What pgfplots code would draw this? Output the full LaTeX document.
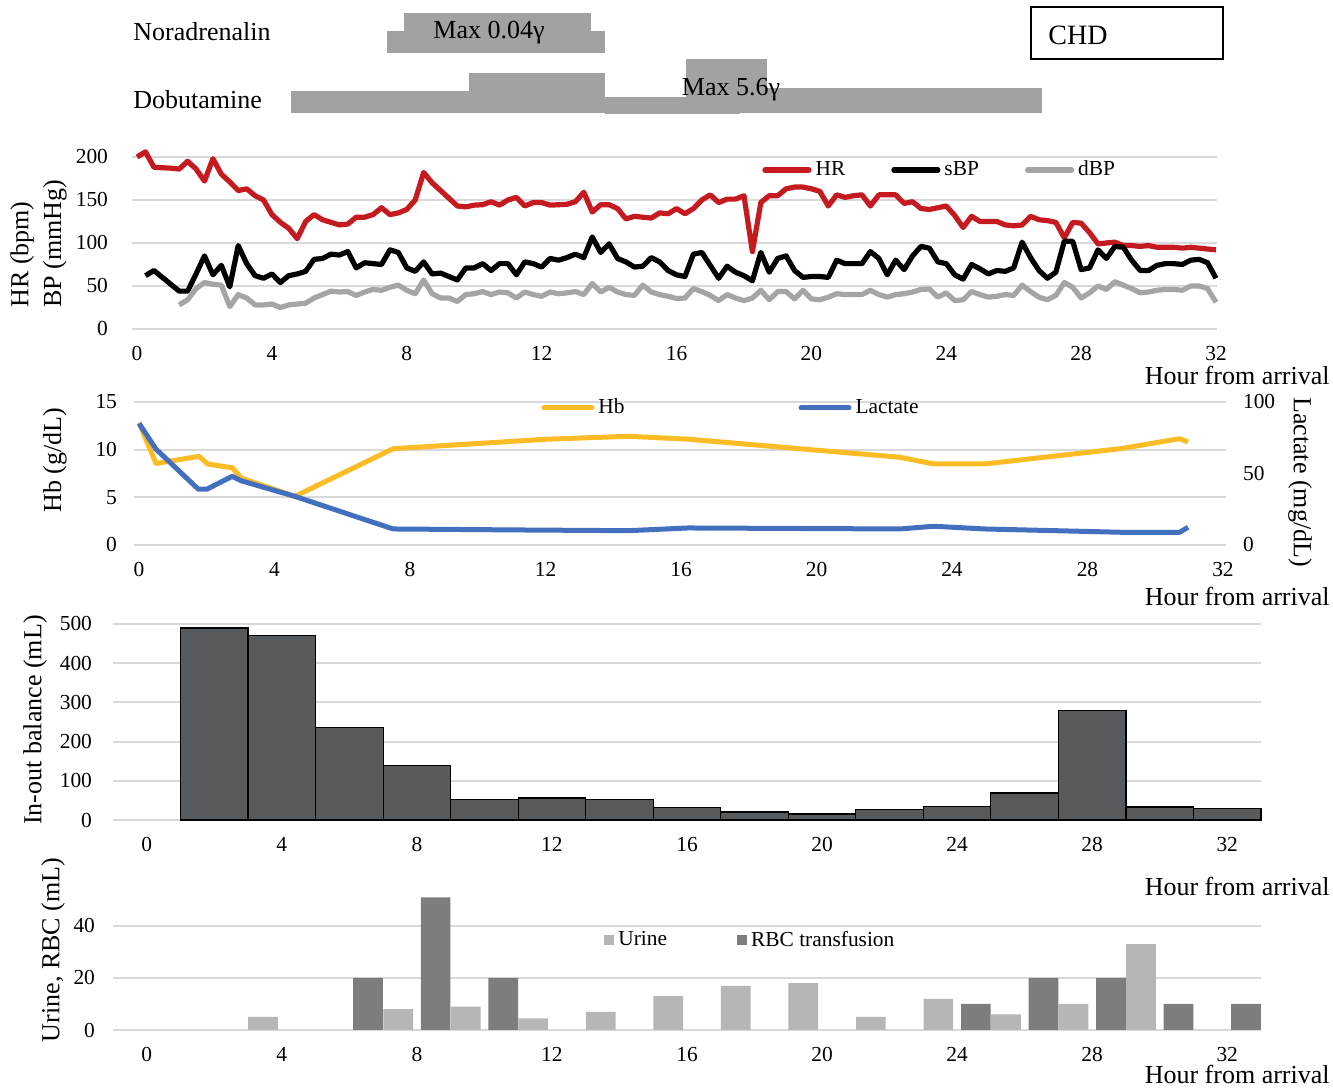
\documentclass[border=0pt]{standalone}
\usepackage{pgfplots}
\pgfplotsset{compat=1.18}
\usepackage{fontspec}
\setmainfont{Liberation Serif}
\definecolor{hrred}{RGB}{196,26,32}
\definecolor{dbpgray}{RGB}{165,165,165}
\definecolor{gridc}{RGB}{217,217,217}
\definecolor{hbc}{RGB}{251,188,38}
\definecolor{lacc}{RGB}{66,112,190}
\definecolor{inout}{RGB}{87,90,93}
\definecolor{urine}{RGB}{180,182,183}
\definecolor{rbc}{RGB}{124,125,127}
\definecolor{drug}{RGB}{160,162,163}
\newcommand{\tickfont}{\fontsize{10.7}{12}\selectfont}
\newcommand{\labfont}{\fontsize{13}{15}\selectfont}
\pgfplotsset{
  base/.style={scale only axis, anchor=south west, clip=false,
    axis line style={draw=none}, major tick length=0pt, tick style={draw=none},
    ymajorgrids, grid style={draw=gridc, line width=1pt},
    tick label style={font=\tickfont},
    /pgf/number format/assume math mode=true,
    xtick={0,4,...,32},
    xticklabel style={yshift=-5.3pt}},
  lin/.style={line width=2.6pt, line join=round, no marks},
}
\begin{document}
\begin{tikzpicture}
\path[use as bounding box] (0,0) rectangle (666.5pt,545pt);

% ---------------- drug bars ----------------
\begin{axis}[hide axis, scale only axis, anchor=south west, clip=false,
  at={(66pt,485pt)}, width=542.5pt, height=60pt,
  xmin=-0.15, xmax=32.03, ymin=0, ymax=120, y dir=reverse]
\addplot[fill=drug, draw=none] coordinates {(7.92,13) (13.46,13) (13.46,31) (7.92,31)};
\addplot[fill=drug, draw=none] coordinates {(7.41,31) (13.88,31) (13.88,53) (7.41,53)};
\addplot[fill=drug, draw=none] coordinates {(4.57,91) (9.85,91) (9.85,113) (4.57,113)};
\addplot[fill=drug, draw=none] coordinates {(9.85,73) (13.88,73) (13.88,113) (9.85,113)};
\addplot[fill=drug, draw=none] coordinates {(13.88,97) (17.88,97) (17.88,114) (13.88,114)};
\addplot[fill=drug, draw=none] coordinates {(16.28,59) (18.68,59) (18.68,97) (16.28,97)};
\addplot[fill=drug, draw=none] coordinates {(17.88,88) (26.84,88) (26.84,113) (17.88,113)};
\end{axis}
\node[anchor=west, inner sep=0pt, font=\labfont] at (66.5pt,529pt) {Noradrenalin};
\node[anchor=west, inner sep=0pt, font=\labfont] at (66.5pt,495pt) {Dobutamine};
\node[inner sep=0pt, font=\labfont] at (244.5pt,528.5pt) {Max 0.04γ};
\node[inner sep=0pt, font=\labfont] at (365.5pt,500pt) {Max 5.6γ};
\draw[line width=1pt] (515.5pt,515.5pt) rectangle (611.5pt,541.5pt);
\node[anchor=west, inner sep=0pt, font=\fontsize{14}{16}\selectfont] at (524pt,527.5pt) {CHD};

% ---------------- panel 1: HR / BP ----------------
\begin{axis}[base, at={(66pt,380.5pt)}, width=542.5pt, height=86pt,
  xmin=-0.15, xmax=32.03, ymin=0, ymax=200, ytick={0,50,...,200},
  yticklabel style={xshift=-8.5pt},
  legend columns=3,
  legend style={at={(axis description cs:0.5806,0.924)}, anchor=west, draw=none, fill=none,
    font=\tickfont, inner sep=0pt, /tikz/every even column/.append style={column sep=21pt}},
  legend image code/.code={\draw[#1, line cap=round] (0pt,0pt) -- (22pt,0pt);}]
\addplot[lin, hrred] coordinates {
(0,200) (0.25,206) (0.5,188) (0.75,187.5) (1,187) (1.25,186) (1.5,195) (1.75,186) (2,172) (2.25,198) (2.5,180) (2.75,171)
(3,161) (3.25,163) (3.5,155) (3.75,150) (4,133) (4.25,124) (4.5,117) (4.75,105) (5,125) (5.25,133) (5.5,127) (5.75,124)
(6,121) (6.25,122) (6.5,130) (6.75,130) (7,133) (7.25,141) (7.5,133) (7.75,135) (8,139) (8.25,150) (8.5,182) (8.75,170)
(9,161) (9.25,152) (9.5,143) (9.75,142) (10,144) (10.25,144.5) (10.5,148) (10.75,144) (11,150) (11.25,153) (11.5,143) (11.75,147)
(12,147) (12.25,144) (12.5,144.5) (12.75,145) (13,148) (13.25,159) (13.5,136) (13.75,144.5) (14,144.5) (14.25,140) (14.5,128) (14.75,131)
(15,130) (15.25,129) (15.5,135) (15.75,134) (16,140) (16.25,134) (16.5,140) (16.75,150) (17,156) (17.25,147) (17.5,151) (17.75,151)
(18,155) (18.25,90) (18.5,147) (18.75,155) (19,155) (19.25,163) (19.5,165) (19.75,165) (20,163) (20.25,160) (20.5,143) (20.75,156)
(21,153) (21.25,155) (21.5,156) (21.75,143) (22,156) (22.25,156) (22.5,156) (22.75,146) (23,148) (23.25,140) (23.5,139) (23.75,141)
(24,143) (24.25,132) (24.5,118) (24.75,131) (25,125) (25.25,125) (25.5,125) (25.75,121) (26,120) (26.25,121) (26.5,131) (26.75,127)
(27,126) (27.25,124) (27.5,106) (27.75,124) (28,123) (28.25,112) (28.5,99) (28.75,100) (29,101) (29.25,97) (29.5,97) (29.75,96)
(30,97) (30.25,95) (30.5,95) (30.75,95) (31,94) (31.25,95) (31.5,94) (31.75,93) (32,92)};
\addlegendentry{HR}
\addplot[lin, black] coordinates {
(0.25,62) (0.5,68) (0.75,60) (1,52) (1.25,44) (1.5,44) (1.75,64) (2,85) (2.25,63) (2.5,74) (2.75,49)
(3,97) (3.25,76) (3.5,62) (3.75,59) (4,64) (4.25,54) (4.5,62) (4.75,64) (5,67) (5.25,81) (5.5,82) (5.75,87)
(6,86) (6.25,90) (6.5,71) (6.75,77) (7,76) (7.25,75) (7.5,92) (7.75,89) (8,71) (8.25,67) (8.5,78) (8.75,64)
(9,65) (9.25,61) (9.5,57) (9.75,71) (10,71) (10.25,76) (10.5,68) (10.75,76) (11,76) (11.25,63) (11.5,78) (11.75,76)
(12,72) (12.25,82) (12.5,80) (12.75,83) (13,87) (13.25,83) (13.5,107) (13.75,89) (14,99) (14.25,82) (14.5,78) (14.75,72)
(15,73) (15.25,83) (15.5,78) (15.75,68) (16,63) (16.25,61) (16.5,87) (16.75,89) (17,74) (17.25,59) (17.5,73) (17.75,66)
(18,62) (18.25,56) (18.5,89) (18.75,66) (19,82) (19.25,85) (19.5,68) (19.75,60) (20,61) (20.25,61) (20.5,60) (20.75,80)
(21,76) (21.25,76) (21.5,76) (21.75,90) (22,82) (22.25,63) (22.5,80) (22.75,69) (23,85) (23.25,96) (23.5,94) (23.75,78)
(24,76) (24.25,63) (24.5,58) (24.75,75) (25,70) (25.25,64) (25.5,68) (25.75,67) (26,71) (26.25,101) (26.5,83) (26.75,68)
(27,59) (27.25,66) (27.5,102) (27.75,102) (28,69) (28.25,71) (28.5,92) (28.75,82) (29,96) (29.25,95) (29.5,80) (29.75,68)
(30,68) (30.25,74) (30.5,76) (30.75,76) (31,75) (31.25,80) (31.5,81) (31.75,77) (32,59)};
\addlegendentry{sBP}
\addplot[lin, dbpgray] coordinates {
(1.25,28) (1.5,34) (1.75,47) (2,54) (2.25,52) (2.5,51) (2.75,26)
(3,40) (3.25,36) (3.5,28) (3.75,28) (4,29) (4.25,25) (4.5,28) (4.75,29) (5,30) (5.25,36) (5.5,40) (5.75,44)
(6,43) (6.25,43.5) (6.5,39) (6.75,43) (7,46) (7.25,45) (7.5,48.5) (7.75,51) (8,45) (8.25,41) (8.5,57) (8.75,41)
(9,36) (9.25,36) (9.5,32) (9.75,40) (10,41) (10.25,43.5) (10.5,40) (10.75,43) (11,42) (11.25,36) (11.5,43) (11.75,40)
(12,38) (12.25,43) (12.5,41) (12.75,42) (13,43.5) (13.25,40) (13.5,53) (13.75,43) (14,48.5) (14.25,43) (14.5,40) (14.75,39)
(15,51) (15.25,43) (15.5,40) (15.75,38) (16,35.5) (16.25,36) (16.5,47) (16.75,43.5) (17,39) (17.25,33) (17.5,40) (17.75,36)
(18,33) (18.25,36) (18.5,45) (18.75,34) (19,43.5) (19.25,43.5) (19.5,35) (19.75,45) (20,35) (20.25,34) (20.5,37) (20.75,41)
(21,40) (21.25,40) (21.5,40) (21.75,45) (22,40) (22.25,37) (22.5,40) (22.75,41) (23,43) (23.25,46) (23.5,46.5) (23.75,37)
(24,42) (24.25,33) (24.5,34) (24.75,43.5) (25,40) (25.25,37) (25.5,38) (25.75,40) (26,39) (26.25,51) (26.5,43.5) (26.75,37)
(27,34) (27.25,39) (27.5,54) (27.75,48.5) (28,36) (28.25,42) (28.5,50) (28.75,46) (29,55) (29.25,51) (29.5,47) (29.75,42)
(30,43) (30.25,45) (30.5,46) (30.75,46) (31,45) (31.25,50) (31.5,50) (31.75,47) (32,31)};
\addlegendentry{dBP}
\end{axis}
\node[rotate=90, anchor=west, inner sep=0pt, font=\labfont] at (11pt,391pt) {HR (bpm)};
\node[rotate=90, anchor=west, inner sep=0pt, font=\labfont] at (27.5pt,391pt) {BP (mmHg)};
\node[anchor=base east, inner sep=0pt, font=\labfont] at (665pt,352.75pt) {Hour from arrival};

% ---------------- panel 2: Hb / Lactate ----------------
\begin{axis}[base, at={(67pt,272.5pt)}, width=546pt, height=71.5pt,
  xmin=-0.15, xmax=32.09, ymin=0, ymax=15, ytick={0,5,10,15},
  yticklabel style={xshift=-5pt}]
\addplot[lin, line width=2.5pt, hbc] coordinates {
(0,12.8) (0.5,8.55) (1.77,9.3) (2.02,8.5) (2.75,8.1) (3.03,7.0) (4.6,5.1) (7.5,10.1) (12.07,11.1) (14.45,11.4)
(16.2,11.1) (22.46,9.2) (23.46,8.5) (24.96,8.5) (28.97,10.1) (30.72,11.15) (30.97,10.8)};
\end{axis}
\begin{axis}[scale only axis, anchor=south west, clip=false, at={(67pt,272.5pt)}, width=546pt, height=71.5pt,
  xmin=-0.15, xmax=32.09, ymin=0, ymax=100, ytick={0,50,100}, xtick=\empty,
  axis y line*=right, axis x line=none, axis line style={draw=none}, major tick length=0pt, tick style={draw=none},
  tick label style={font=\tickfont}, /pgf/number format/assume math mode=true,
  yticklabel style={xshift=5pt},
  legend columns=2,
  legend style={at={(axis description cs:0.3727,0.958)}, anchor=west, draw=none, fill=none,
    font=\tickfont, inner sep=0pt, /tikz/every even column/.append style={column sep=85pt}},
  legend image code/.code={\draw[#1, line cap=round] (0pt,0pt) -- (24pt,0pt);}]
\addlegendimage{lin, line width=2.5pt, hbc}
\addlegendentry{Hb}
\addplot[lin, line width=2.5pt, lacc] coordinates {
(0,85) (0.5,67) (1.75,39) (2,39) (2.75,48) (3,45) (4.6,34) (7.5,11.2) (11.25,10.5) (14.45,10) (16.2,11.9)
(22.46,11.2) (23.46,13.1) (24.96,11.2) (28.97,8.9) (30.72,8.9) (30.97,12.4)};
\addlegendentry{Lactate}
\end{axis}
\node[rotate=90, inner sep=0pt, font=\labfont] at (27.5pt,315pt) {Hb (g/dL)};
\node[rotate=-90, inner sep=0pt, font=\labfont] at (650pt,304pt) {Lactate (mg/dL)};
\node[anchor=base east, inner sep=0pt, font=\labfont] at (665pt,242.25pt) {Hour from arrival};

% ---------------- panel 3: in-out balance ----------------
\begin{axis}[base, at={(56.5pt,135pt)}, width=574pt, height=98pt,
  xmin=-1, xmax=33, ymin=0, ymax=500, ytick={0,100,...,500},
  yticklabel style={xshift=-7pt}, ybar, bar width=2]
\addplot[fill=inout, draw=black, line width=0.6pt, bar shift=0] coordinates {
(2,490) (4,471) (6,236) (8,138) (10,52) (12,56) (14,52) (16,31) (18,20.5) (20,15.4) (22,27) (24,35) (26,69) (28,279) (30,33) (32,30)};
\end{axis}
\node[rotate=90, inner sep=0pt, font=\labfont] at (17.5pt,185pt) {In-out balance (mL)};
\node[anchor=base east, inner sep=0pt, font=\labfont] at (665pt,97.25pt) {Hour from arrival};

% ---------------- panel 4: urine / RBC ----------------
\begin{axis}[base, at={(56.5pt,30pt)}, width=574pt, height=52pt,
  xmin=-1, xmax=33, ymin=0, ymax=40, ytick={0,20,40},
  yticklabel style={xshift=-5.5pt}, ybar, bar width=0.88,
  legend columns=2,
  legend style={at={(axis description cs:0.4277,0.865)}, anchor=west, draw=none, fill=none,
    font=\tickfont, inner sep=0pt, /tikz/every even column/.append style={column sep=33pt}},
  legend image code/.code={\fill[#1] (0pt,-2.5pt) rectangle (5pt,2.5pt);}]
\addplot[fill=urine, draw=none, bar shift=0.445] coordinates {
(3,5) (7,8) (9,9) (11,4.5) (13,7) (15,13) (17,17) (19,18) (21,5) (23,12) (25,6) (27,10) (29,33)};
\addlegendentry{Urine}
\addplot[fill=rbc, draw=none, bar shift=-0.445] coordinates {
(7,20) (9,51) (11,20) (25,10) (27,20) (29,20) (31,10) (33,10)};
\addlegendentry{RBC transfusion}
\end{axis}
\node[rotate=90, inner sep=0pt, font=\labfont] at (26.5pt,70pt) {Urine, RBC (mL)};
\node[anchor=base east, inner sep=0pt, font=\labfont] at (665pt,3pt) {Hour from arrival};
\end{tikzpicture}
\end{document}
